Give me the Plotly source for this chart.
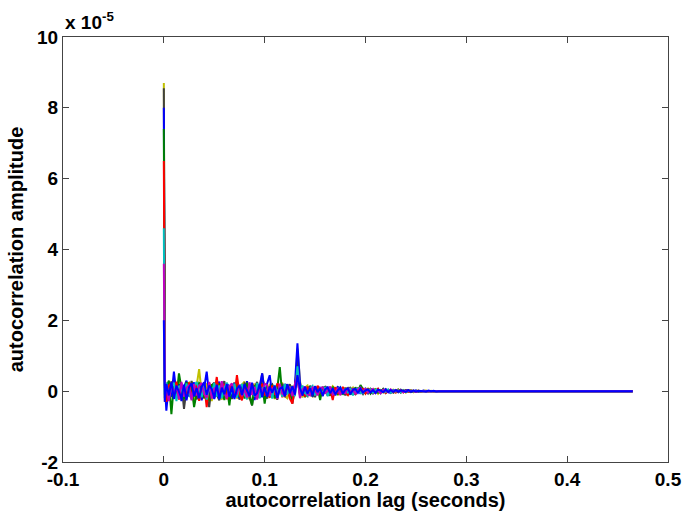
import plotly.graph_objects as go

# lag grid (seconds): peak at 0, a point just after, uniform noise samples, then tail end
lag_peak = 0.0
lag_after_peak = 0.001
lag_step = 0.0025
lag_end = 0.465

# amplitudes in units of 1e-5
colors = ["#c0c000", "#404040", "#0000ff", "#008000", "#ff0000", "#00bfbf", "#bf00bf", "#0000ff"]
peaks = [8.7, 8.55, 8.0, 7.4, 6.5, 4.6, 3.6, 2.0]
after_peak = [0.4, -0.3, 0.2, -0.2, 0.3, -0.1, 0.1, -0.3]

noise_y = [-0.22, 0.10, 0.28, -0.15, 0.05, 0.30, -0.26, -0.08, 0.19, 0.24,
 -0.12, -0.30, 0.15, 0.62, -0.05, -0.20, 0.22, 0.08, -0.28, 0.12,
 0.26, -0.10, -0.24, 0.14, 0.20, -0.18, 0.03, 0.25, -0.21, -0.06,
 0.18, 0.27, -0.16, -0.22, 0.09, 0.21, -0.13, 0.04, 0.23, -0.19,
 -0.08, 0.20, 0.12, -0.22, -0.05, 0.17, 0.24, -0.14, -0.20, 0.06,
 0.15, -0.12, 1.20, 0.30, -0.18, 0.10, 0.16, -0.09, -0.15, 0.12,
 0.08, -0.14, 0.05, 0.13, -0.10, -0.04, 0.14, 0.07, -0.12, 0.09,
 -0.06, 0.11, -0.13, 0.02, 0.10, -0.08, 0.06, 0.09, -0.07, -0.03,
 0.07, -0.05, 0.04, 0.06, -0.07, 0.03, -0.04, 0.05, 0.02, -0.05,
 0.04, -0.03, 0.05, -0.02, 0.03, -0.04, 0.02, 0.03, -0.03, 0.01,
 0.02, -0.02, 0.01, 0.02, -0.01, 0.01, -0.01, 0.0]
noise_k = [0.18, -0.25, -0.10, 0.26, 0.12, -0.18, 0.22, -0.50, 0.07, -0.14,
 0.29, 0.05, -0.23, -0.12, 0.20, 0.10, -0.17, -0.45, 0.16, 0.24,
 -0.09, -0.26, 0.13, 0.28, -0.14, 0.04, -0.22, 0.19, 0.11, -0.24,
 -0.05, 0.22, 0.15, -0.18, -0.40, 0.08, 0.26, -0.11, 0.50, 0.02,
 -0.21, 0.12, 0.19, -0.06, -0.24, 0.08, 0.21, -0.17, 0.03, 0.20,
 -0.35, 0.05, 0.90, -0.16, 0.11, -0.08, -0.14, 0.15, 0.06, -0.17,
 0.12, -0.03, -0.11, 0.14, 0.05, -0.13, 0.09, -0.07, 0.13, -0.10,
 0.04, -0.12, 0.08, 0.10, -0.05, -0.09, 0.07, 0.03, -0.08, 0.05,
 -0.06, 0.07, 0.02, -0.05, 0.05, -0.03, 0.06, -0.04, -0.02, 0.04,
 -0.03, 0.02, 0.04, -0.04, 0.01, 0.03, -0.02, -0.01, 0.02, -0.02,
 0.01, 0.0]
noise_b = [-0.55, 0.24, -0.16, 0.55, -0.08, 0.20, -0.28, 0.12, 0.30, -0.14,
 -0.04, 0.25, -0.20, 0.14, -0.26, 0.09, 0.55, -0.12, 0.18, -0.22,
 0.06, 0.27, -0.15, -0.08, 0.21, 0.13, -0.19, 0.24, -0.05, -0.20,
 0.16, -0.12, 0.28, -0.07, 0.19, -0.25, 0.10, 0.14, 0.50, -0.09,
 0.22, 0.45, -0.12, 0.05, -0.18, 0.15, -0.06, 0.20, 0.10, -0.15,
 -0.08, 0.18, 1.35, 0.25, -0.13, 0.07, -0.10, 0.14, -0.16, 0.04,
 -0.07, 0.12, -0.14, 0.06, 0.10, -0.08, 0.03, -0.12, 0.11, 0.05,
 -0.09, 0.07, 0.02, -0.10, 0.08, -0.04, 0.06, -0.07, 0.05, 0.03,
 -0.05, 0.04, -0.06, 0.03, 0.05, -0.04, 0.02, 0.06, -0.03, -0.05,
 0.03, 0.01, -0.03, 0.04, -0.02, 0.02, 0.03, -0.03, -0.01, 0.02,
 -0.02, 0.01, 0.02, -0.01, 0.0]
noise_g = [0.12, 0.30, -0.65, 0.20, -0.18, 0.50, 0.08, -0.22, 0.26, -0.12,
 0.15, -0.45, -0.06, 0.23, 0.17, -0.20, 0.02, -0.28, 0.19, 0.10,
 -0.14, 0.22, 0.06, -0.25, 0.13, -0.40, 0.18, -0.05, 0.26, -0.17,
 0.09, -0.21, 0.24, -0.10, -0.40, 0.16, 0.05, -0.19, 0.21, -0.35,
 0.14, -0.08, 0.18, -0.20, 0.07, 0.68, -0.13, 0.09, 0.19, -0.11,
 -0.22, 0.12, 0.30, -0.06, 0.14, -0.17, 0.09, 0.11, -0.13, -0.05,
 0.10, -0.25, 0.13, -0.06, 0.08, -0.11, 0.12, 0.02, -0.09, 0.07,
 -0.10, 0.05, 0.09, -0.06, -0.08, 0.11, -0.03, 0.17, 0.04, -0.06,
 0.06, -0.07, 0.03, 0.05, -0.04, -0.02, 0.06, -0.05, 0.03, 0.02,
 -0.04, 0.03, -0.02, 0.04, -0.03, 0.01, 0.02, -0.02, 0.01, -0.01,
 0.0]
noise_r = [-0.30, 0.16, 0.22, -0.10, 0.27, -0.24, 0.13, 0.08, -0.19, 0.25,
 -0.16, 0.10, 0.21, -0.27, 0.05, 0.18, -0.45, 0.24, -0.11, -0.06,
 0.40, -0.18, 0.11, 0.20, -0.23, 0.06, 0.17, -0.14, 0.45, -0.08,
 -0.26, 0.15, 0.07, -0.17, 0.22, -0.04, -0.20, 0.13, 0.18, -0.12,
 0.06, -0.19, 0.16, -0.10, 0.22, 0.12, -0.17, 0.05, 0.14, -0.21,
 -0.35, 0.17, 0.60, -0.09, 0.08, -0.15, 0.13, -0.04, 0.10, -0.12,
 0.15, 0.04, -0.10, 0.09, -0.13, 0.06, -0.25, 0.11, -0.05, -0.08,
 0.12, -0.04, -0.11, 0.07, 0.03, -0.09, 0.10, -0.02, 0.06, -0.07,
 0.04, 0.05, -0.06, -0.03, 0.07, -0.04, 0.02, -0.05, 0.04, 0.03,
 -0.02, -0.04, 0.03, 0.02, -0.03, 0.01, -0.02, 0.02, -0.01, 0.0]
noise_c = [0.25, -0.20, 0.10, 0.24, -0.28, 0.15, 0.05, -0.14, 0.22, -0.09,
 -0.22, 0.13, 0.26, 0.06, -0.17, 0.19, -0.24, 0.11, -0.07, 0.23,
 -0.15, 0.16, -0.20, 0.09, 0.24, -0.12, -0.03, 0.21, -0.18, 0.12,
 0.20, -0.09, -0.23, 0.17, 0.04, -0.15, 0.23, -0.20, 0.07, 0.15,
 -0.13, 0.09, -0.21, 0.17, -0.04, 0.13, -0.16, 0.20, -0.09, 0.11,
 0.07, -0.14, 0.70, -0.12, 0.16, -0.05, -0.12, 0.08, 0.15, -0.10,
 -0.06, 0.09, -0.08, 0.12, -0.14, 0.04, 0.07, -0.10, 0.05, 0.11,
 -0.08, 0.06, -0.05, 0.09, -0.12, 0.03, 0.08, -0.05, -0.06, 0.07,
 -0.03, 0.05, -0.05, 0.04, 0.02, -0.06, 0.03, -0.02, 0.05, -0.04,
 0.02, -0.01, 0.03, -0.03, 0.02, -0.02, 0.01, 0.02, -0.01, 0.0]
noise_m = [0.05, -0.28, 0.19, -0.08, 0.14, -0.22, 0.26, -0.15, 0.09, 0.18,
 -0.26, 0.20, -0.12, 0.15, 0.23, -0.09, -0.18, 0.26, -0.21, 0.07,
 0.12, -0.17, 0.28, -0.06, -0.20, 0.14, 0.22, -0.13, -0.08, 0.19,
 -0.14, 0.05, -0.18, 0.25, -0.10, 0.12, -0.24, 0.17, -0.06, 0.21,
 0.17, -0.14, 0.08, 0.10, -0.22, 0.21, -0.07, -0.12, 0.16, 0.09,
 -0.14, 0.20, 0.40, -0.20, 0.05, 0.13, -0.09, -0.12, 0.11, 0.04,
 -0.12, 0.08, 0.11, -0.07, 0.02, 0.13, -0.10, -0.05, 0.09, -0.11,
 0.06, -0.07, 0.10, -0.03, 0.05, -0.08, 0.04, 0.10, -0.05, 0.08,
 -0.04, 0.02, 0.06, -0.05, 0.03, -0.06, 0.04, 0.02, -0.03, 0.05,
 -0.02, 0.03, -0.01, 0.02, -0.03, 0.01, 0.02, -0.01, 0.01, -0.02,
 0.01, 0.0]
noise_b2 = [0.20, -0.12, 0.27, -0.22, 0.16, -0.05, -0.20, 0.18, -0.26, 0.11,
 0.22, -0.15, 0.09, -0.20, 0.12, 0.25, -0.10, 0.16, 0.06, -0.19,
 0.18, -0.23, 0.10, -0.09, 0.20, -0.16, 0.13, -0.22, 0.07, 0.16,
 -0.11, 0.19, 0.03, -0.15, 0.24, -0.13, -0.05, 0.20, -0.17, 0.11,
 -0.16, 0.12, -0.04, 0.15, -0.19, 0.07, 0.11, -0.14, 0.20, -0.06,
 0.14, -0.10, 0.45, 0.08, -0.11, 0.12, -0.07, 0.09, -0.12, 0.14,
 -0.03, 0.08, -0.12, 0.05, 0.11, -0.06, 0.08, -0.09, 0.02, 0.10,
 -0.07, 0.04, 0.08, -0.08, 0.03, 0.06, -0.05, 0.07, -0.04, 0.02,
 0.05, -0.04, 0.03, -0.05, 0.04, 0.02, -0.03, 0.04, -0.02, 0.03,
 -0.02, 0.03, -0.01, 0.02, 0.01, -0.02, 0.03, -0.01, 0.02, -0.01,
 0.01, 0.0, 0.01, -0.01, 0.02, 0.0, 0.01, -0.01, 0.0, 0.0,
 0.01, 0.0, 0.0, 0.0]
noises = [noise_y, noise_k, noise_b, noise_g, noise_r, noise_c, noise_m, noise_b2]
tail_value = 0.0

x_ticks = [-0.1, 0, 0.1, 0.2, 0.3, 0.4, 0.5]
x_ticklabels = ["-0.1", "0", "0.1", "0.2", "0.3", "0.4", "0.5"]
y_ticks = [-2, 0, 2, 4, 6, 8, 10]
y_ticklabels = ["-2", "0", "2", "4", "6", "8", "10"]

fig = go.Figure()
for col, pk, ap, nz in zip(colors, peaks, after_peak, noises):
    xs = [lag_peak, lag_after_peak] + [lag_step * (i + 1) for i in range(len(nz))] + [lag_end]
    ys = [pk, ap] + nz + [tail_value]
    fig.add_trace(go.Scatter(x=xs, y=ys, mode="lines",
                             line=dict(color=col, width=2), showlegend=False,
                             hoverinfo="skip"))

font_fam = "Liberation Sans, Arial, sans-serif"
axis_common = dict(showline=True, linecolor="#444", linewidth=1, mirror="ticks",
                   ticks="inside", ticklen=6, tickcolor="#444", showgrid=False,
                   zeroline=False, automargin=False,
                   tickfont=dict(family=font_fam, size=19, color="black", weight="bold"))

fig.update_xaxes(range=[-0.1, 0.5], tickvals=x_ticks, ticktext=x_ticklabels,
                 title=dict(text="autocorrelation lag (seconds)", standoff=2,
                            font=dict(family=font_fam, size=20, color="black", weight="bold")),
                 **axis_common)
fig.update_yaxes(range=[-2, 10], tickvals=y_ticks, ticktext=y_ticklabels,
                 title=dict(text="autocorrelation amplitude", standoff=8,
                            font=dict(family=font_fam, size=20, color="black", weight="bold")),
                 **axis_common)

fig.add_annotation(xref="paper", yref="paper", x=0, y=1, xanchor="left", yanchor="bottom",
                   yshift=2, xshift=0, showarrow=False,
                   text="x 10<sup>-5</sup>",
                   font=dict(family=font_fam, size=19, color="black", weight="bold"))

fig.update_layout(width=684, height=511, paper_bgcolor="white", plot_bgcolor="white",
                  margin=dict(l=63, r=16, t=37, b=49))

fig.write_html("out.html")
